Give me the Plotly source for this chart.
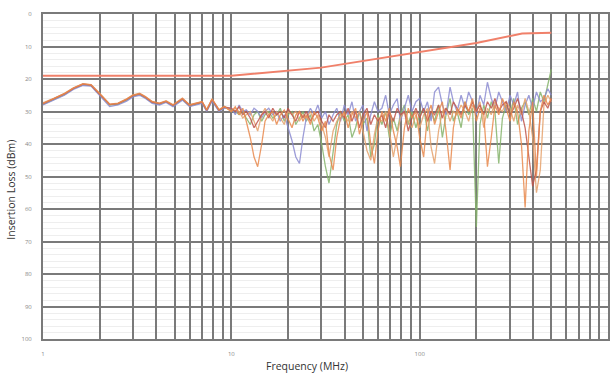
import plotly.graph_objects as go

freq = [1, 1.15, 1.3, 1.45, 1.63, 1.8, 2.0, 2.26, 2.5, 2.78, 3.0, 3.26, 3.5, 3.8, 4.15, 4.5, 4.9, 5.5, 6.0, 6.5, 7.0, 7.4, 7.9, 8.6, 9.2,
        10, 10.5, 11, 11.5, 12, 12.6, 13.2, 13.8, 14.5, 15.1,
        15.8, 16.6, 17.4, 18.2, 19.1, 20, 21, 22, 23, 24,
        25, 26.3, 27.5, 28.8, 30.2, 31.6, 33, 34.7, 36.3, 38,
        39.8, 41.7, 43.7, 45.7, 47.9, 50, 52.5, 55, 57.5, 60,
        63, 66, 69, 72.5, 76, 79, 83, 87, 91, 95.5,
        100, 105, 110, 115, 120, 126, 132, 138, 145, 151,
        158, 166, 174, 182, 191, 200, 209, 219, 229, 240,
        251, 263, 275, 288, 302, 316, 331, 347, 363, 380,
        398, 417, 437, 457, 479, 500]

trace_orange = [27.5, 26, 24.5, 22.8, 21.5, 21.8, 24.5, 27.8, 27.5, 26.2, 25, 24.5, 25.5, 27, 27.5, 26.8, 28, 26, 28, 27.5, 27, 29.5, 26.2, 29.5, 28.5,
                30, 28.5, 31, 29, 33, 38, 44, 47, 40, 33,
                31, 30, 34, 31, 29.5, 32, 35, 31, 30, 33,
                31, 34, 30, 32, 36, 33, 43, 48, 38, 32,
                30, 35, 31, 29, 37, 33, 30, 40, 46, 36,
                30, 33, 29, 36, 41, 47, 35, 29, 32, 30,
                38, 44, 31, 28, 34, 30, 27, 36, 48, 35,
                29, 32, 27, 30, 26, 33, 29, 31, 47, 38,
                28, 31, 26, 29, 33, 27, 30, 40, 59.5, 36,
                27, 50, 30, 25, 28, 26]

trace_blue = [28, 26.5, 25, 23.2, 22, 22.2, 25, 28.5, 28, 26.8, 25.5, 25, 26, 27.5, 28, 27.2, 28.5, 26.5, 28.5, 28, 27.5, 30, 26.8, 30, 29,
              29, 31, 28, 30, 29.5, 31, 29, 30, 32, 30,
              29, 31, 30, 33, 31, 35, 39, 44, 46, 38,
              32, 29, 31, 28, 32, 30, 34, 31, 29, 33,
              28, 31, 27, 33, 30, 28, 36, 31, 27, 30,
              29, 25, 31, 28, 26, 33, 29, 25, 30, 27,
              26, 30, 27, 33, 24, 22.5, 28, 31, 22.5, 27,
              30, 25, 29, 24, 27, 31, 25, 28, 21, 26,
              29, 24, 27, 30, 25, 28, 24, 33, 28, 25,
              29, 24, 27, 26, 23, 25]

trace_green = [27.8, 26.3, 24.8, 23, 21.8, 22, 24.8, 28, 27.8, 26.5, 25.3, 24.8, 25.8, 27.3, 27.8, 27, 28.3, 26.3, 28.3, 27.8, 27.3, 29.8, 26.5, 29.8, 28.8,
               29.5, 30, 31, 30, 32, 34, 31, 30, 33, 31,
               30, 32, 31, 29, 33, 31, 30, 34, 32, 30,
               33, 31, 36, 34, 40, 47, 52, 42, 34, 30,
               33, 31, 38, 35, 30, 34, 32, 44, 40, 31,
               34, 30, 38, 32, 36, 31, 28, 34, 30, 35,
               31, 29, 36, 30, 33, 28, 38, 31, 26, 33,
               30, 35, 27, 31, 29, 65.5, 34, 28, 32, 27,
               30, 46, 32, 28, 31, 26, 34, 29, 27, 31,
               26, 30, 24, 27, 22, 17]

trace_red = [27.6, 26.1, 24.6, 22.9, 21.6, 21.9, 24.6, 27.9, 27.6, 26.3, 25.1, 24.6, 25.6, 27.1, 27.6, 26.9, 28.1, 26.1, 28.1, 27.6, 27.1, 29.6, 26.3, 29.6, 28.6,
             29, 30, 28.5, 31, 30, 32, 35, 33, 31, 30,
             32, 29, 31, 30, 32, 29, 31, 33, 30, 32,
             30, 33, 31, 30, 33, 35, 31, 33, 31, 30,
             32, 29, 33, 30, 35, 31, 29, 34, 31, 33,
             31, 35, 30, 33, 29, 31, 30, 36, 32, 29,
             32, 29, 33, 30, 31, 28, 32, 29, 31, 27,
             29, 31, 28, 30, 27, 30, 28, 31, 27, 29,
             26, 30, 28, 27, 31, 29, 26, 30, 35, 44,
             53, 48, 30, 27, 29, 26]

trace_tan = [27.3, 25.9, 24.4, 22.7, 21.4, 21.7, 24.4, 27.7, 27.4, 26.1, 24.9, 24.4, 25.4, 26.9, 27.4, 26.7, 27.9, 25.9, 27.9, 27.4, 26.9, 29.4, 26.1, 29.4, 28.4,
             30, 29, 30, 32, 31, 30, 33, 36, 31, 29,
             31, 33, 30, 32, 34, 30, 31, 30, 33, 31,
             32, 30, 33, 31, 34, 38, 44, 36, 33, 31,
             31, 33, 30, 32, 30, 36, 42, 45, 37, 32,
             33, 30, 36, 44, 38, 32, 30, 33, 35, 31,
             35, 31, 29, 41, 46, 36, 30, 29, 33, 30,
             31, 28, 30, 33, 28, 30, 27, 35, 29, 31,
             27, 29, 30, 27, 29, 33, 28, 31, 26, 30,
             38, 55, 48, 28, 25, 27]

limit_freq = [1, 10, 30, 100, 200, 350, 500]
limit_vals = [19, 19, 16.5, 11.6, 8.9, 6.0, 5.8]

x_tickvals = [1, 2, 3, 4, 5, 6, 7, 8, 9, 10, 20, 30, 40, 50, 60, 70, 80, 90,
              100, 200, 300, 400, 500, 600, 700, 800, 900, 1000]
x_ticktext = ["1"] + [""] * 8 + ["10"] + [""] * 8 + ["100"] + [""] * 8 + ["1000"]
y_tickvals = [0, 10, 20, 30, 40, 50, 60, 70, 80, 90, 100]

fig = go.Figure()
series = [
    (trace_green, "#86b46c"),
    (trace_blue, "#8c8cd2"),
    (trace_tan, "#e6a26c"),
    (trace_red, "#c0564c"),
    (trace_orange, "#e98a4e"),
]
for vals, col in series:
    fig.add_trace(go.Scatter(x=freq, y=vals, mode="lines",
                             line=dict(color=col, width=1.3), opacity=0.85,
                             showlegend=False))
fig.add_trace(go.Scatter(x=limit_freq, y=limit_vals, mode="lines",
                         line=dict(color="#f0806a", width=2), showlegend=False))

fig.update_layout(
    width=614, height=376,
    margin=dict(l=43, r=4, t=14, b=37),
    paper_bgcolor="white", plot_bgcolor="white",
    font=dict(family="Open Sans", color="#333"),
    xaxis=dict(type="log", range=[0, 3], tickvals=x_tickvals, ticktext=x_ticktext,
               showgrid=True, gridcolor="#7a7a7a", gridwidth=2,
               zeroline=False, showline=True, mirror=True,
               linecolor="#7a7a7a", linewidth=2, ticks="",
               tickfont=dict(size=6, color="#888"), ticklabelstandoff=8),
    yaxis=dict(range=[100, 0], tickvals=y_tickvals,
               showgrid=True, gridcolor="#7a7a7a", gridwidth=2,
               minor=dict(dtick=2, showgrid=True, gridcolor="#eeeeee", gridwidth=1),
               zeroline=False, showline=True, mirror=True,
               linecolor="#7a7a7a", linewidth=2, ticks="",
               tickfont=dict(size=6, color="#888"), ticklabelstandoff=8),
    annotations=[
        dict(text="Insertion Loss (dBm)", xref="paper", yref="paper",
             x=-0.058, y=0.46, xanchor="center", yanchor="middle",
             textangle=-90, showarrow=False, font=dict(size=10.5, color="#333")),
        dict(text="Frequency (MHz)", xref="paper", yref="paper",
             x=0.467, y=-0.083, xanchor="center", yanchor="middle",
             showarrow=False, font=dict(size=10.5, color="#333")),
    ],
)

fig.write_html("out.html")
